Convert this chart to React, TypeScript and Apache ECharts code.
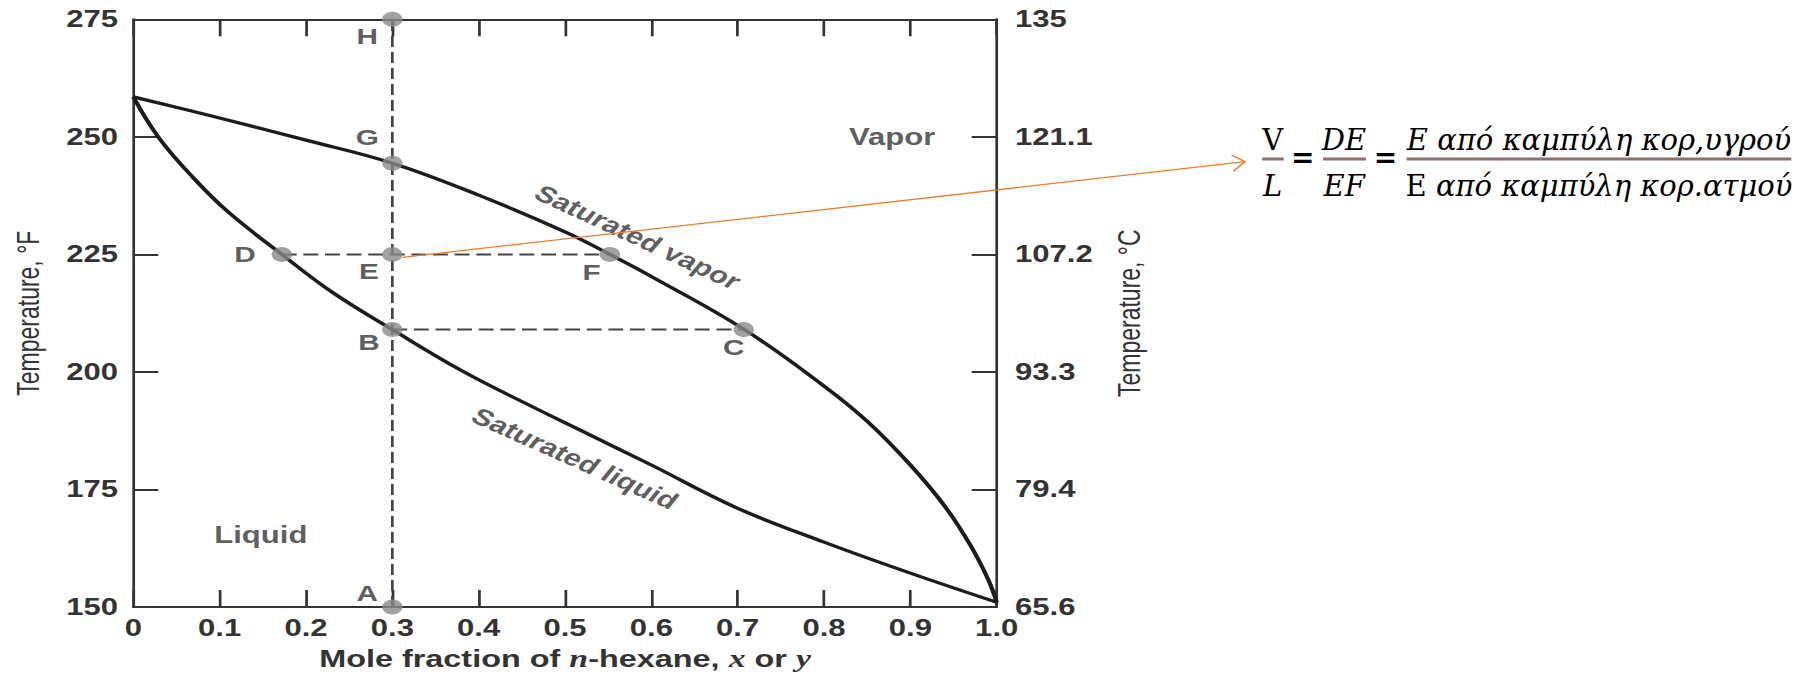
import React, { useEffect, useRef } from 'react';
import * as echarts from 'echarts';

// ---------- data ----------
const xTickLabels = ['0', '0.1', '0.2', '0.3', '0.4', '0.5', '0.6', '0.7', '0.8', '0.9', '1.0'];
const fTickLabels = ['150', '175', '200', '225', '250', '275'];
const cTickLabels = ['65.6', '79.4', '93.3', '107.2', '121.1', '135'];

// saturated liquid (bubble-point) curve: mole fraction x, temperature °F
const liquidX = [0, 0.03, 0.07, 0.11, 0.172, 0.23, 0.3, 0.38, 0.46, 0.52, 0.6, 0.7, 0.8, 0.9, 1.0];
const liquidT = [258.5, 249.7, 241.2, 234.0, 225, 217.0, 209, 200.3, 192.8, 187.4, 180.2, 171.0, 163.8, 157.2, 151];

// saturated vapor (dew-point) curve: mole fraction y, temperature °F
const vaporX = [0, 0.1, 0.2, 0.3, 0.4, 0.5, 0.552, 0.6, 0.707, 0.8, 0.85, 0.9, 0.94, 0.97, 0.99, 1.0];
const vaporT = [258.5, 254.0, 249.3, 244.4, 237.6, 229.8, 225, 220.3, 209.1, 197.0, 189.5, 180.2, 171.4, 163.0, 155.9, 151];

// lettered state points
const pointNames = ['H', 'G', 'E', 'D', 'F', 'B', 'C', 'A'];
const pointX = [0.3, 0.3, 0.3, 0.172, 0.552, 0.3, 0.707, 0.3];
const pointT = [275, 244.4, 225, 225, 225, 209, 209, 150];

// region annotations
const regionNames = ['Vapor', 'Liquid', 'Saturated vapor', 'Saturated liquid'];
const regionX = [0.879, 0.1477, 0.5845, 0.5116];
const regionT = [250, 165.3, 228.7, 181.6];

// ---------- layout / style ----------
const PAGE_W = 1807;
const PAGE_H = 676;
const W = 1338;
const S = PAGE_W / W; // horizontal stretch of the original picture

const textColor = '#333333';
const lineColor = '#333333';
const sans = '"Liberation Sans", Arial, Helvetica, sans-serif';
const serif = '"Liberation Serif", "Times New Roman", serif';

const labelOffsets: Record<string, number[]> = {
  H: [-18.5, 17],
  G: [-18.5, -26],
  E: [-17.3, 17.3],
  D: [-27.2, 0],
  F: [-13.6, 18.3],
  B: [-17.3, 13.3],
  C: [-7.4, 18.3],
  A: [-18.5, -13.7],
};
const regionRotate: Record<string, number> = {
  Vapor: 0,
  Liquid: 0,
  'Saturated vapor': -32,
  'Saturated liquid': -31,
};

function pt(name: string) {
  const i = pointNames.indexOf(name);
  return [pointX[i], pointT[i]];
}

export default function App() {
  const ref = useRef<HTMLDivElement>(null);

  useEffect(() => {
    document.body.style.margin = '0';
    document.documentElement.style.overflow = 'hidden';
    const chart = echarts.init(ref.current!, null, { renderer: 'svg', width: W, height: PAGE_H });

    const gridLeft = 133.3 / S;
    const gridRightEdge = 996.7 / S;

    const axisLine = { show: true, onZero: false, lineStyle: { color: lineColor, width: 2 } };
    const tickStyle = { color: lineColor, width: 2 };
    const tickFont = { fontSize: 23, fontWeight: 'bold' as const, color: textColor, fontFamily: sans };

    const dashStyle = { color: '#444444', width: 2, type: [11, 5] as any };
    const dashSeries = (a: number[], b: number[]) => ({
      type: 'line',
      data: [a, b],
      symbol: 'none',
      lineStyle: dashStyle,
      z: 2,
      silent: true,
    });

    const curve = (name: string, xs: number[], ts: number[]) => ({
      type: 'line',
      name,
      data: xs.map((x, i) => [x, ts[i]]),
      smooth: 0.4,
      symbol: 'none',
      lineStyle: { color: '#1c1c1c', width: 3.2 },
      z: 3,
    });

    const option: any = {
      animation: false,
      backgroundColor: '#ffffff',
      grid: {
        left: gridLeft,
        right: W - gridRightEdge,
        top: 19.3,
        bottom: 69,
        containLabel: false,
        outerBoundsMode: 'none',
      },
      xAxis: [
        {
          type: 'value',
          min: 0,
          max: 1,
          interval: 0.1,
          position: 'bottom',
          axisLine,
          axisTick: { show: true, inside: true, length: 17, lineStyle: tickStyle },
          axisLabel: {
            ...tickFont,
            margin: 9,
            formatter: (v: number) => xTickLabels[Math.round(v * 10)] ?? '',
          },
          splitLine: { show: false },
          name: '{a|Mole fraction of }{i|n}{a|-hexane, }{i|x}{a| or }{i|y}',
          nameLocation: 'middle',
          nameGap: 39,
          nameTextStyle: {
            fontSize: 24,
            fontWeight: 'bold',
            color: textColor,
            fontFamily: sans,
            lineHeight: 26,
            rich: {
              a: { fontSize: 24, fontWeight: 'bold', color: textColor, fontFamily: sans, lineHeight: 26 },
              i: { fontSize: 25, fontStyle: 'italic', color: textColor, fontFamily: serif, lineHeight: 26 },
            },
          },
        },
        {
          type: 'value',
          min: 0,
          max: 1,
          interval: 0.1,
          position: 'top',
          axisLine,
          axisTick: { show: true, inside: true, length: 17, lineStyle: tickStyle },
          axisLabel: { show: false },
          splitLine: { show: false },
        },
      ],
      yAxis: [
        {
          type: 'value',
          min: 150,
          max: 275,
          interval: 25,
          position: 'left',
          axisLine,
          axisTick: { show: true, inside: true, length: 18.5, lineStyle: tickStyle },
          axisLabel: {
            ...tickFont,
            margin: 11.3,
            formatter: (v: number) => fTickLabels[Math.round((v - 150) / 25)] ?? '',
          },
          splitLine: { show: false },
          name: 'Temperature, °F',
          nameLocation: 'middle',
          nameGap: 66.5,
          nameRotate: 90,
          nameTextStyle: { fontSize: 23, color: textColor, fontFamily: sans },
        },
        {
          type: 'value',
          min: 150,
          max: 275,
          interval: 25,
          position: 'right',
          axisLine,
          axisTick: { show: true, inside: true, length: 18.5, lineStyle: tickStyle },
          axisLabel: {
            ...tickFont,
            margin: 13.6,
            formatter: (v: number) => cTickLabels[Math.round((v - 150) / 25)] ?? '',
          },
          splitLine: { show: false },
          name: 'Temperature, °C',
          nameLocation: 'middle',
          nameGap: 86.5,
          nameRotate: 90,
          nameTextStyle: { fontSize: 23, color: textColor, fontFamily: sans },
        },
      ],
      series: [
        dashSeries(pt('A'), pt('H')),
        dashSeries(pt('D'), pt('F')),
        dashSeries(pt('B'), pt('C')),
        curve('Saturated liquid', liquidX, liquidT),
        curve('Saturated vapor', vaporX, vaporT),
        {
          type: 'scatter',
          name: 'points',
          symbol: 'circle',
          symbolSize: 15,
          itemStyle: { color: '#8a8a8a' },
          z: 5,
          label: {
            show: true,
            position: 'inside',
            formatter: '{b}',
            fontSize: 22,
            fontWeight: 'bold',
            color: textColor,
            fontFamily: sans,
          },
          data: pointNames.map((n, i) => ({
            name: n,
            value: [pointX[i], pointT[i]],
            label: { offset: labelOffsets[n] },
          })),
        },
        {
          type: 'scatter',
          name: 'regions',
          symbol: 'circle',
          symbolSize: 1,
          itemStyle: { color: 'rgba(0,0,0,0)' },
          z: 6,
          silent: true,
          label: {
            show: true,
            position: 'inside',
            formatter: '{b}',
            fontSize: 23,
            fontWeight: 'bold',
            color: textColor,
            fontFamily: sans,
          },
          data: regionNames.map((n, i) => ({
            name: n,
            value: [regionX[i], regionT[i]],
            label: { rotate: regionRotate[n] },
          })),
        },
      ],
    };

    chart.setOption(option);

    // orange arrow from point E to the lever-rule equation
    const e = chart.convertToPixel({ xAxisIndex: 0, yAxisIndex: 0 }, pt('E')) as number[];
    const sx = e[0] * S + 10;
    const sy = e[1] + 3;
    const tx = 1245;
    const ty = 161.7;
    const dx = sx - tx;
    const dy = sy - ty;
    const len = Math.hypot(dx, dy);
    const ux = dx / len;
    const uy = dy / len;
    const armLen = 15;
    const ang = (33 * Math.PI) / 180;
    const rot = (a: number) => [
      tx + armLen * (ux * Math.cos(a) - uy * Math.sin(a)),
      ty + armLen * (ux * Math.sin(a) + uy * Math.cos(a)),
    ];
    const a1 = rot(ang);
    const a2 = rot(-ang);
    const orange = '#ED7D31';

    const eqFont = '"DejaVu Serif", "Liberation Serif", serif';
    const eqSize = 29;
    const barColor = '#8b716b';
    const txt = (text: string, x: number, y: number, italic: boolean) => ({
      type: 'text',
      style: {
        text,
        x,
        y,
        fill: '#000',
        fontFamily: eqFont,
        fontSize: eqSize,
        fontStyle: italic ? 'italic' : 'normal',
        align: 'center',
        verticalAlign: 'middle',
        textAlign: 'center',
        textVerticalAlign: 'middle',
      },
    });
    const bar = (x1: number, x2: number) => ({
      type: 'rect',
      shape: { x: x1, y: 157.5, width: x2 - x1, height: 3 },
      style: { fill: barColor },
    });
    const eq = (x: number) => ({
      type: 'text',
      style: {
        text: '=',
        x,
        y: 158,
        fill: '#000',
        fontFamily: '"DejaVu Sans", sans-serif',
        fontWeight: 'bold',
        fontSize: 28,
        align: 'center',
        verticalAlign: 'middle',
        textAlign: 'center',
        textVerticalAlign: 'middle',
      },
    });

    chart.setOption({
      graphic: {
        elements: [
          {
            type: 'line',
            shape: { x1: sx / S, y1: sy, x2: tx / S, y2: ty },
            style: { stroke: orange, lineWidth: 1.3 },
            z: 10,
          },
          {
            type: 'polyline',
            shape: { points: [[a1[0] / S, a1[1]], [tx / S, ty], [a2[0] / S, a2[1]]] },
            style: { stroke: orange, lineWidth: 1.3, fill: null },
            z: 10,
          },
          {
            type: 'group',
            x: 0,
            y: 0,
            scaleX: 1 / S,
            children: [
              txt('V', 1273.4, 139.7, false),
              bar(1263, 1284.5),
              txt('L', 1273.4, 186.4, true),
              eq(1303.6),
              txt('DE', 1344.8, 139.7, true),
              bar(1323.9, 1366.9),
              txt('EF', 1345, 186.4, true),
              eq(1386.4),
              txt('E από καμπύλη κορ,υγρού', 1600, 139.7, true),
              bar(1407.4, 1792.4),
              {
                type: 'text',
                style: {
                  text: '{r|Ε}{i| από καμπύλη κορ.ατμού}',
                  x: 1600,
                  y: 186.4,
                  align: 'center',
                  verticalAlign: 'middle',
                  textAlign: 'center',
                  textVerticalAlign: 'middle',
                  fill: '#000',
                  fontFamily: eqFont,
                  fontSize: eqSize,
                  rich: {
                    r: { fontFamily: eqFont, fontSize: eqSize, fontStyle: 'normal', fill: '#000', color: '#000' },
                    i: { fontFamily: eqFont, fontSize: eqSize, fontStyle: 'italic', fill: '#000', color: '#000' },
                  },
                },
              },
            ],
          },
        ],
      },
    });

    return () => {
      chart.dispose();
    };
  }, []);

  return (
    <div
      ref={ref}
      style={{
        position: 'absolute',
        left: 0,
        top: 0,
        width: W,
        height: PAGE_H,
        transform: `scaleX(${S})`,
        transformOrigin: '0 0',
        background: '#ffffff',
      }}
    />
  );
}
